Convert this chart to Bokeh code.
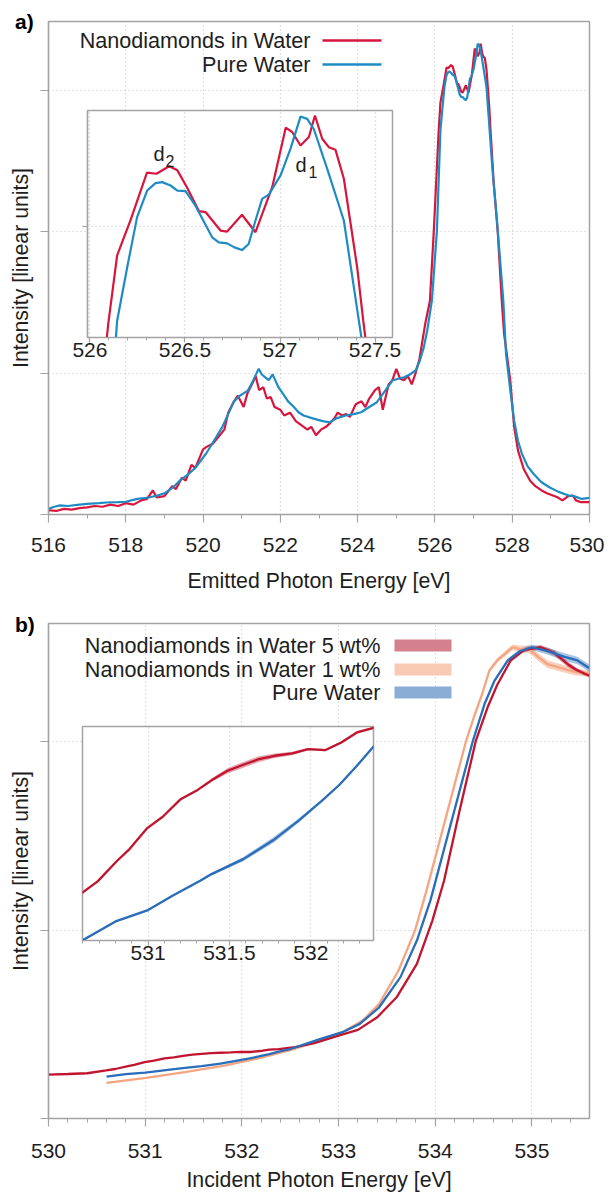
import numpy as np
from bokeh.plotting import figure
from bokeh.models import (GridBox, Label, BoxAnnotation, FixedTicker, SingleIntervalTicker,
                          Range1d, ColumnDataSource, PrintfTickFormatter, Div)
from bokeh.layouts import column
from bokeh.embed import file_html
from bokeh.resources import INLINE

# ---------------- Panel a data (emission spectra) ----------------
a_labels = ["Nanodiamonds in Water", "Pure Water"]
a_red_x = [516.0, 516.2, 516.4, 516.6, 516.8, 517.0, 517.2, 517.4, 517.6, 517.8, 518.0, 518.2,
           518.4, 518.55, 518.7, 518.8, 519.0, 519.2, 519.3, 519.45, 519.55, 519.7, 519.8, 520.0,
           520.1, 520.25, 520.4, 520.55, 520.65, 520.8, 520.9, 521.05, 521.15, 521.3, 521.36,
           521.45, 521.56, 521.65, 521.75, 521.85, 522.0, 522.1, 522.25, 522.4, 522.55, 522.7,
           522.8, 522.92, 523.05, 523.18, 523.3, 523.4, 523.48, 523.6, 523.7, 523.8, 523.95,
           524.1, 524.2, 524.3, 524.45, 524.55, 524.65, 524.8, 524.9, 525.0, 525.1, 525.2,
           525.3, 525.4, 525.5, 525.6, 525.66, 525.75, 525.87, 525.97, 526.096, 526.143,
           526.213, 526.30, 526.35, 526.417, 526.46, 526.51, 526.573, 526.608, 526.687, 526.722,
           526.80, 526.871, 526.959, 527.03, 527.064, 527.108, 527.152, 527.184, 527.222,
           527.257, 527.292, 527.336, 527.406, 527.438, 527.52, 527.63, 527.73, 527.79, 527.95,
           528.05, 528.15, 528.3, 528.46, 528.6, 528.76, 528.9, 529.0, 529.17, 529.3, 529.45,
           529.57, 529.65, 529.78, 530.0]
a_red_y = [0.03, 0.025, 0.04, 0.035, 0.045, 0.05, 0.06, 0.055, 0.07, 0.06, 0.08, 0.07,
           0.1, 0.11, 0.17, 0.12, 0.13, 0.2, 0.18, 0.26, 0.24, 0.35, 0.33, 0.46,
           0.48, 0.5, 0.55, 0.6, 0.72, 0.8, 0.84, 0.76, 0.86, 0.94, 0.98,
           0.88, 0.9, 0.82, 0.83, 0.76, 0.74, 0.7, 0.72, 0.66, 0.63, 0.6,
           0.62, 0.56, 0.6, 0.62, 0.65, 0.68, 0.72, 0.7, 0.71, 0.69, 0.78,
           0.8, 0.76, 0.82, 0.88, 0.9, 0.74, 0.92, 0.95, 1.03, 0.96, 0.95,
           0.98, 0.92, 1.0, 1.1, 1.2, 1.35, 1.51, 2.0, 2.71, 2.914,
           3.018, 3.16, 3.157, 3.179, 3.167, 3.117, 3.046, 3.043, 2.988, 2.985,
           3.035, 2.983, 3.117, 3.294, 3.281, 3.241, 3.266, 3.33, 3.261,
           3.236, 3.228, 3.142, 2.879, 2.72, 2.35, 1.98, 1.51, 1.277, 0.947,
           0.62, 0.452, 0.32, 0.24, 0.2, 0.17, 0.15, 0.14, 0.122, 0.1, 0.13,
           0.134, 0.1, 0.087, 0.087]
a_blue_x = [516.0, 516.15, 516.3, 516.5, 516.8, 517.0, 517.3, 517.5, 517.8, 518.0, 518.3, 518.6,
            518.82, 519.0, 519.23, 519.4, 519.63, 519.8, 519.94, 520.1, 520.34, 520.5, 520.65,
            520.8, 520.95, 521.16, 521.3, 521.44, 521.52, 521.61, 521.7, 521.8, 521.84, 521.95,
            522.07, 522.2, 522.35, 522.47, 522.6, 522.88, 523.1, 523.28, 523.45, 523.69, 523.9,
            524.09, 524.3, 524.5, 524.7, 524.9, 525.05, 525.2, 525.35, 525.5, 525.6, 525.71,
            525.8, 525.92, 526.05, 526.143, 526.196, 526.248, 526.301, 526.345, 526.38, 526.424,
            526.46, 526.503, 526.555, 526.643, 526.678, 526.722, 526.76, 526.80, 526.835,
            526.871, 526.906, 526.941, 527.003, 527.055, 527.108, 527.143, 527.178, 527.248,
            527.336, 527.415, 527.5, 527.6, 527.77, 527.84, 527.95, 528.05, 528.15, 528.25,
            528.4, 528.55, 528.75, 528.96, 529.2, 529.46, 529.6, 529.8, 530.0]
a_blue_y = [0.04, 0.055, 0.065, 0.06, 0.07, 0.075, 0.08, 0.085, 0.087, 0.09, 0.11, 0.12,
            0.134, 0.15, 0.193, 0.24, 0.288, 0.33, 0.38, 0.44, 0.547, 0.62, 0.71,
            0.8, 0.84, 0.876, 0.95, 1.03, 0.99, 0.97, 0.95, 0.99, 0.966, 0.9,
            0.853, 0.8, 0.76, 0.723, 0.7, 0.676, 0.66, 0.652, 0.68, 0.70, 0.71,
            0.723, 0.76, 0.794, 0.87, 0.947, 0.96, 0.97, 0.99, 1.018, 1.08, 1.18,
            1.3, 1.51, 2.0, 2.72, 2.879, 3.028, 3.107, 3.129, 3.132, 3.122,
            3.107, 3.105, 3.062, 2.968, 2.953, 2.95, 2.938, 2.93, 2.948,
            3.018, 3.082, 3.095, 3.152, 3.231, 3.327, 3.32, 3.29, 3.172,
            3.018, 2.72, 2.40, 2.10, 1.51, 1.135, 0.88, 0.664, 0.52, 0.43,
            0.34, 0.288, 0.23, 0.193, 0.16, 0.134, 0.13, 0.11, 0.118]
a_peak_labels = ["d", "2", "d", "1"]

# ---------------- Panel b data (absorption spectra) ----------------
b_labels = ["Nanodiamonds in Water 5 wt%", "Nanodiamonds in Water 1 wt%", "Pure Water"]
b_red_x = [530.0, 530.2, 530.4, 530.597, 530.69, 530.81, 530.886, 530.995, 531.09, 531.2,
           531.296, 531.392, 531.488, 531.585, 531.681, 531.778, 531.886, 531.983, 532.09,
           532.187, 532.283, 532.38, 532.55, 532.75, 533.0, 533.2, 533.4, 533.6, 533.81,
           533.97, 534.09, 534.25, 534.42, 534.54, 534.64, 534.78, 534.92, 535.09, 535.23,
           535.37, 535.47, 535.59]
b_red_y = [0.233, 0.236, 0.240, 0.255, 0.2626, 0.2768, 0.2848, 0.2992, 0.307, 0.3191,
           0.3248, 0.3322, 0.3386, 0.3427, 0.3466, 0.3489, 0.3505, 0.3535, 0.3528,
           0.358, 0.3649, 0.3679, 0.378, 0.40, 0.44, 0.47, 0.537, 0.643, 0.82,
           1.05, 1.26, 1.63, 2.005, 2.18, 2.30, 2.43, 2.486, 2.50, 2.47,
           2.41, 2.377, 2.35]
b_red_err = [0.0007, 0.0007, 0.0007, 0.0007, 0.0007, 0.0007, 0.0007, 0.0007, 0.0007, 0.0007,
             0.0007, 0.0012, 0.0018, 0.002, 0.002, 0.0015, 0.0012, 0.0008, 0.0008,
             0.0008, 0.0008, 0.0008, 0.002, 0.002, 0.002, 0.002, 0.002, 0.004, 0.004,
             0.004, 0.004, 0.004, 0.004, 0.005, 0.006, 0.008, 0.01, 0.012, 0.015,
             0.015, 0.012, 0.01]
b_orange_x = [530.6, 531.01, 531.41, 531.82, 532.18, 532.51, 532.79, 533.04, 533.25, 533.42,
              533.62, 533.79, 533.91, 534.32, 534.40, 534.49, 534.56, 534.64, 534.80, 534.88,
              534.97, 535.06, 535.16, 535.30, 535.44, 535.59]
b_orange_y = [0.189, 0.216, 0.246, 0.281, 0.32, 0.364, 0.41, 0.458, 0.52, 0.608,
              0.785, 0.997, 1.21, 2.005, 2.13, 2.26, 2.377, 2.43, 2.50, 2.49,
              2.49, 2.45, 2.41, 2.39, 2.37, 2.36]
b_orange_err = [0.003, 0.003, 0.003, 0.003, 0.003, 0.003, 0.003, 0.003, 0.003, 0.004,
                0.004, 0.004, 0.004, 0.005, 0.006, 0.008, 0.01, 0.012, 0.015, 0.018,
                0.02, 0.02, 0.02, 0.02, 0.018, 0.015]
b_blue_x = [530.6, 530.8, 531.0, 531.15, 531.32, 531.39, 531.585, 531.778, 531.923, 532.067,
            532.176, 532.283, 532.38, 532.51, 532.79, 533.04, 533.22, 533.42, 533.64, 533.81,
            533.95, 534.39, 534.51, 534.61, 534.75, 534.88, 535.0, 535.16, 535.33, 535.47,
            535.59]
b_blue_y = [0.2223, 0.2351, 0.2429, 0.2527, 0.263, 0.2676, 0.2779, 0.2916, 0.3042, 0.3179,
            0.329, 0.342, 0.3546, 0.37, 0.418, 0.458, 0.502, 0.59, 0.75, 0.944,
            1.157, 2.005, 2.20, 2.32, 2.43, 2.48, 2.50, 2.48, 2.45, 2.43,
            2.39]
b_blue_err = [0.0007, 0.0007, 0.0007, 0.0007, 0.0008, 0.001, 0.0015, 0.002, 0.0015, 0.0008,
              0.0008, 0.0008, 0.0008, 0.002, 0.002, 0.002, 0.002, 0.003, 0.004, 0.004,
              0.004, 0.005, 0.006, 0.008, 0.01, 0.012, 0.015, 0.018, 0.02, 0.02,
              0.02]

# ---------------- styling ----------------
FONT = "Liberation Sans"
FRAME = "#a3a3a3"
GRID = "#c4c4c4"
TXT = "#1e1e1e"
A_RED, A_BLUE = "#d6163c", "#1f8bc3"
B_RED, B_ORANGE, B_BLUE = "#c1152f", "#f4a582", "#2b6db8"
B_PATCH = ["#d5818d", "#f8c9b3", "#8aadd6"]
LEG_FONT = "21.6px"

W = 604


def style(p, tick_out=8, minor_out=4, label_px="21px"):
    p.outline_line_color = FRAME
    p.outline_line_width = 1.5
    p.background_fill_color = "white"
    for ax in p.axis:
        ax.axis_line_color = FRAME
        ax.axis_line_width = 1.2
        ax.major_tick_line_color = FRAME
        ax.minor_tick_line_color = FRAME
        ax.major_tick_line_width = 1.2
        ax.major_tick_out = tick_out
        ax.major_tick_in = 0
        ax.minor_tick_out = minor_out
        ax.minor_tick_in = 0
        ax.major_label_text_font = FONT
        ax.major_label_text_font_size = label_px
        ax.major_label_text_color = TXT
        ax.axis_label_text_font = FONT
        ax.axis_label_text_font_size = "21.3px"
        ax.axis_label_text_font_style = "normal"
        ax.axis_label_text_color = TXT
    for g in (p.xgrid, p.ygrid):
        g.grid_line_color = GRID
        g.grid_line_dash = "1 3"
        g.grid_line_width = 1.2


def hide_labels(ax):
    ax.major_label_text_font_size = "0px"
    ax.major_label_text_color = None
    ax.major_label_standoff = 0


def mapper(fig_left, fig_top, bl, bt, fw, fh, xr, yr):
    def fx(X):
        return xr[0] + (X - fig_left - bl) / fw * (xr[1] - xr[0])

    def fy(Y):
        return yr[1] - (Y - fig_top - bt) / fh * (yr[1] - yr[0])
    return fx, fy


def tag(text, top, left):
    return Div(text=text, width=40, height=26, margin=(top, 0, 0, left),
               styles={"font-family": FONT, "font-size": "21px", "font-weight": "bold",
                       "color": "#000", "line-height": "24px"})


# ---------------- Panel a main ----------------
A_X, A_Y = (516, 530), (0, 3.486)
A_H, A_BL, A_BR, A_BT, A_BB = 600, 48, 15, 21, 86
pa = figure(width=W, height=A_H, x_range=Range1d(*A_X), y_range=Range1d(*A_Y),
            output_backend="svg", toolbar_location=None,
            min_border_left=A_BL, min_border_right=A_BR, min_border_top=A_BT, min_border_bottom=A_BB)
pa.xaxis.ticker = SingleIntervalTicker(interval=2, num_minor_ticks=2)
pa.yaxis.ticker = FixedTicker(ticks=[0, 1, 2, 3])
pa.xaxis.axis_label = "Emitted Photon Energy [eV]"
pa.yaxis.axis_label = "Intensity [linear units]"
style(pa)
hide_labels(pa.yaxis[0])
pa.yaxis.axis_label_standoff = 8
pa.xaxis.major_label_standoff = 15
pa.xaxis.axis_label_standoff = 14

src_ar = ColumnDataSource(dict(x=a_red_x, y=a_red_y))
src_ab = ColumnDataSource(dict(x=a_blue_x, y=a_blue_y))
pa.line("x", "y", source=src_ar, line_color=A_RED, line_width=2.2)
pa.line("x", "y", source=src_ab, line_color=A_BLUE, line_width=2.2)

fxa, fya = mapper(0, 0, A_BL, A_BT, W - A_BL - A_BR, A_H - A_BT - A_BB, A_X, A_Y)
for lab, col, row in zip(a_labels, [A_RED, A_BLUE], [40, 64]):
    pa.add_layout(Label(x=fxa(310), y=fya(row), text=lab, text_align="right", text_baseline="middle",
                        text_font=FONT, text_font_size=LEG_FONT, text_color=TXT))
    pa.segment(x0=[fxa(322)], y0=[fya(row)], x1=[fxa(381)], y1=[fya(row)], line_color=col, line_width=2.5)

# ---------------- Panel a inset ----------------
IA_X, IA_Y = (525.987, 527.592), (2.67, 3.345)
IA_W, IA_H, IA_BL, IA_BR, IA_BT, IA_BB = 335, 259, 18, 12, 2, 30
ia = figure(width=IA_W, height=IA_H, x_range=Range1d(*IA_X), y_range=Range1d(*IA_Y),
            output_backend="svg", toolbar_location=None,
            min_border_left=IA_BL, min_border_right=IA_BR, min_border_top=IA_BT, min_border_bottom=IA_BB)
ia.xaxis.ticker = SingleIntervalTicker(interval=0.5, num_minor_ticks=5)
ia.xaxis.formatter = PrintfTickFormatter(format="%g")
ia.yaxis.ticker = FixedTicker(ticks=[3.0])
style(ia, tick_out=5, minor_out=3)
ia.border_fill_alpha = 0
hide_labels(ia.yaxis[0])
ia.xaxis.major_label_standoff = 0
ia.line("x", "y", source=src_ar, line_color=A_RED, line_width=2.2)
ia.line("x", "y", source=src_ab, line_color=A_BLUE, line_width=2.2)
fxi, fyi = mapper(69, 108, IA_BL, IA_BT, IA_W - IA_BL - IA_BR, IA_H - IA_BT - IA_BB, IA_X, IA_Y)
for txt, X, Y, size in zip(a_peak_labels, [153, 165, 295, 308], [153, 160, 164, 171],
                           ["20px", "16px", "20px", "16px"]):
    ia.add_layout(Label(x=fxi(X), y=fyi(Y), text=txt, text_align="left", text_baseline="alphabetic",
                        text_font=FONT, text_font_size=size, text_color=TXT))

gA = GridBox(children=[(pa, 0, 0, 3, 3), (ia, 1, 1, 1, 1), (tag("a)", 10, 15), 0, 0, 1, 1)],
             rows=["108px", "259px", "233px"], cols=["69px", "335px", "200px"])

# ---------------- Panel b main ----------------
B_X, B_Y = (530, 535.595), (0, 2.626)
B_H, B_BL, B_BR, B_BT, B_BB = 598, 48, 15, 23, 80
pb = figure(width=W, height=B_H, x_range=Range1d(*B_X), y_range=Range1d(*B_Y),
            output_backend="svg", toolbar_location=None,
            min_border_left=B_BL, min_border_right=B_BR, min_border_top=B_BT, min_border_bottom=B_BB)
pb.xaxis.ticker = SingleIntervalTicker(interval=1, num_minor_ticks=5)
pb.yaxis.ticker = FixedTicker(ticks=[0, 1, 2])
pb.xaxis.axis_label = "Incident Photon Energy [eV]"
pb.yaxis.axis_label = "Intensity [linear units]"
style(pb)
hide_labels(pb.yaxis[0])
pb.yaxis.axis_label_standoff = 8
pb.xaxis.major_label_standoff = 17
pb.xaxis.axis_label_standoff = 7


def series(xs, ys, es):
    xs, ys, es = np.array(xs), np.array(ys), np.array(es)
    return ColumnDataSource(dict(x=xs, y=ys, lo=ys - es, hi=ys + es))


src_br = series(b_red_x, b_red_y, b_red_err)
src_bo = series(b_orange_x, b_orange_y, b_orange_err)
src_bb = series(b_blue_x, b_blue_y, b_blue_err)

pb.varea(x="x", y1="lo", y2="hi", source=src_bo, fill_color=B_ORANGE, fill_alpha=0.55)
pb.varea(x="x", y1="lo", y2="hi", source=src_br, fill_color=B_RED, fill_alpha=0.4)
pb.varea(x="x", y1="lo", y2="hi", source=src_bb, fill_color=B_BLUE, fill_alpha=0.4)
pb.line("x", "y", source=src_bo, line_color=B_ORANGE, line_width=2.3)
pb.line("x", "y", source=src_br, line_color=B_RED, line_width=2.3)
pb.line("x", "y", source=src_bb, line_color=B_BLUE, line_width=2.3)

fxb, fyb = mapper(0, 600, B_BL, B_BT, W - B_BL - B_BR, B_H - B_BT - B_BB, B_X, B_Y)
for lab, col, row in zip(b_labels, B_PATCH, [645, 669, 692]):
    pb.add_layout(Label(x=fxb(380), y=fyb(row), text=lab, text_align="right", text_baseline="middle",
                        text_font=FONT, text_font_size=LEG_FONT, text_color=TXT))
    pb.add_layout(BoxAnnotation(left=fxb(394), right=fxb(451), bottom=fyb(row + 6), top=fyb(row - 6),
                                fill_color=col, fill_alpha=1.0, line_color=None))

# ---------------- Panel b inset ----------------
IB_X, IB_Y = (530.597, 532.385), (0.222, 0.369)
IB_W, IB_H, IB_BL, IB_BR, IB_BT, IB_BB = 305, 246, 4, 10, 2, 30
ib = figure(width=IB_W, height=IB_H, x_range=Range1d(*IB_X), y_range=Range1d(*IB_Y),
            output_backend="svg", toolbar_location=None,
            min_border_left=IB_BL, min_border_right=IB_BR, min_border_top=IB_BT, min_border_bottom=IB_BB)
ib.xaxis.ticker = SingleIntervalTicker(interval=0.5, num_minor_ticks=5)
ib.xaxis.formatter = PrintfTickFormatter(format="%g")
style(ib, tick_out=5, minor_out=3)
ib.border_fill_alpha = 0
ib.yaxis.visible = False
ib.ygrid.visible = False
ib.xaxis.major_label_standoff = 0
ib.varea(x="x", y1="lo", y2="hi", source=src_br, fill_color=B_RED, fill_alpha=0.4)
ib.varea(x="x", y1="lo", y2="hi", source=src_bb, fill_color=B_BLUE, fill_alpha=0.4)
ib.line("x", "y", source=src_br, line_color=B_RED, line_width=2.3)
ib.line("x", "y", source=src_bb, line_color=B_BLUE, line_width=2.3)

gB = GridBox(children=[(pb, 0, 0, 3, 3), (ib, 1, 1, 1, 1), (tag("b)", 13, 15), 0, 0, 1, 1)],
             rows=["124px", "246px", "228px"], cols=["78px", "305px", "221px"])

layout = column(gA, gB, spacing=0)
open("out.html", "w").write(file_html(layout, INLINE))
